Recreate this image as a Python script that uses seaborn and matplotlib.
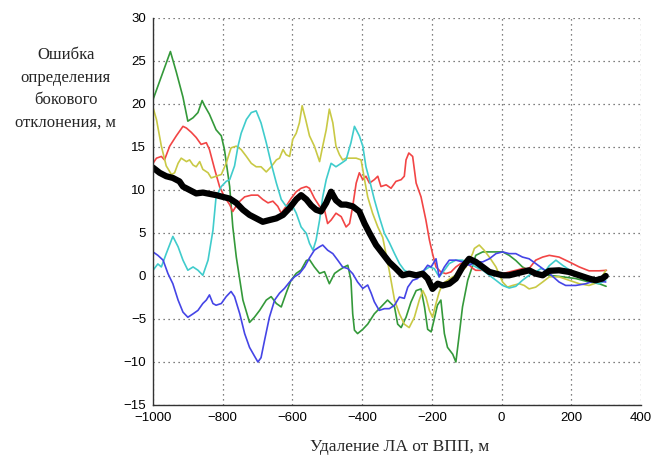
import pandas as pd
import seaborn as sns
import matplotlib.pyplot as plt

# Lateral deviation error vs distance to runway, 5 runs + average (thick black)

x_green = [-1000, -950, -933, -914, -900, -885, -871, -859, -852, -838, -819, -804, -795, -780, -771, -761, -742, -723, -709, -694,
           -675, -661, -646, -632, -618, -604, -589, -575, -560, -551, -537, -522, -508, -494, -479, -465, -451, -441, -432, -427,
           -422, -413, -398, -384, -365, -346, -327, -307, -298, -288, -274, -260, -245, -231, -221, -212, -202, -193, -184, -174,
           -164, -155, -140, -131, -121, -112, -97, -83, -74, -54, -35, -16, 3, 22, 41, 60, 79, 98, 118, 137,
           175, 213, 251, 280, 300]
y_green = [20.5, 26.1, 23.7, 20.8, 18.0, 18.4, 19.0, 20.4, 19.8, 18.8, 17.0, 16.3, 14.7, 10.4, 5.7, 2.2, -2.8, -5.4, -4.8, -4.0,
           -2.8, -2.4, -3.2, -3.6, -2.0, -0.5, 0.3, 0.7, 1.8, 1.9, 1.05, 0.3, 0.5, -0.9, 0.3, 0.7, 1.05, 1.25, -0.5, -4.4,
           -6.3, -6.7, -6.2, -5.6, -4.4, -3.6, -2.8, -3.6, -5.6, -6.0, -4.8, -3.05, -1.7, -1.5, -3.6, -6.2, -6.5, -5.0, -3.4, -2.8,
           -6.7, -8.3, -9.1, -10.0, -6.7, -3.6, -0.5, 1.2, 2.4, 2.8, 2.8, 2.8, 2.8, 2.4, 1.8, 1.05, 0.66, 0.47, 0.27, 0.08,
           -0.1, -0.3, -0.7, -0.9, -1.2]

x_red = [-1000, -990, -976, -967, -952, -933, -914, -904, -890, -876, -862, -847, -838, -823, -809, -795, -780, -771, -756, -737,
         -718, -699, -685, -670, -656, -642, -632, -618, -604, -589, -575, -560, -551, -537, -522, -508, -499, -489, -475, -460,
         -446, -436, -427, -417, -408, -398, -389, -379, -365, -355, -346, -331, -317, -303, -288, -279, -274, -266, -255, -245,
         -231, -217, -207, -198, -188, -174, -160, -145, -131, -117, -102, -83, -74, -54, -35, -16, 3, 22, 41, 60,
         79, 98, 118, 137, 165, 194, 223, 251, 280, 301]
y_red = [13.1, 13.7, 13.9, 13.5, 15.1, 16.3, 17.4, 17.2, 16.7, 16.1, 15.3, 15.5, 14.7, 12.4, 10.4, 9.2, 8.3, 7.5, 8.5, 9.2,
         9.4, 9.4, 8.9, 8.5, 8.7, 8.1, 7.3, 8.1, 9.0, 9.8, 10.2, 10.4, 10.2, 9.05, 8.1, 7.7, 6.1, 6.5, 7.3, 6.9,
         5.7, 6.1, 8.1, 10.8, 12.0, 11.2, 11.6, 10.8, 11.2, 11.6, 10.4, 10.6, 10.2, 11.0, 11.2, 11.6, 13.5, 14.3, 13.9, 10.8,
         9.2, 6.5, 4.2, 2.6, 1.05, 0.47, 0.27, 0.47, 1.05, 1.45, 1.64, 0.9, 0.66, 0.66, 0.47, 0.27, 0.27, 0.47, 0.66, 0.86,
         0.86, 1.84, 2.2, 2.4, 2.2, 1.64, 1.05, 0.6, 0.6, 0.66]

x_yellow = [-1000, -990, -976, -962, -947, -938, -928, -919, -904, -895, -885, -876, -866, -857, -842, -833, -819, -804, -790, -776,
            -761, -747, -732, -718, -704, -690, -675, -661, -646, -637, -627, -618, -608, -599, -589, -580, -572, -562, -551, -537,
            -522, -513, -503, -494, -484, -475, -465, -456, -446, -432, -417, -403, -393, -384, -370, -355, -341, -322, -307, -293,
            -279, -265, -250, -236, -226, -217, -207, -198, -188, -179, -169, -155, -140, -121, -102, -83, -78, -64, -50, -35,
            -16, 3, 17, 32, 51, 65, 79, 98, 118, 137, 165, 194, 223, 251, 280, 299]
y_yellow = [19.6, 18.2, 15.1, 12.8, 11.8, 12.0, 13.1, 13.7, 13.3, 13.5, 12.9, 12.7, 13.3, 12.4, 12.0, 11.4, 11.6, 11.8, 13.1, 14.9,
            15.1, 14.7, 13.9, 13.1, 12.7, 12.7, 12.1, 12.7, 13.5, 13.7, 14.7, 14.1, 13.9, 15.9, 16.6, 17.8, 19.8, 18.2, 16.3, 15.1,
            13.3, 15.1, 17.0, 19.4, 17.8, 15.1, 14.1, 13.5, 13.7, 13.7, 13.7, 13.5, 11.2, 9.2, 7.3, 5.7, 4.5, 0.6, -2.8, -4.4,
            -5.6, -6.0, -4.8, -2.8, -1.7, -2.45, -4.0, -4.8, -3.2, -1.9, -0.9, -0.5, -0.1, 0.27, 1.05, 2.6, 3.2, 3.6, 3.0, 2.2,
            1.05, -0.7, -1.3, -1.1, -0.9, -1.1, -1.5, -1.3, -0.7, -0.1, -0.1, -0.5, -0.9, -1.1, -0.7, 0.66]

x_cyan = [-1000, -986, -976, -962, -943, -928, -914, -900, -885, -871, -857, -842, -828, -819, -804, -790, -780, -766, -756, -747,
          -732, -718, -704, -690, -675, -661, -646, -632, -618, -604, -589, -575, -560, -551, -541, -532, -522, -513, -503, -489,
          -475, -460, -446, -432, -422, -408, -398, -389, -379, -365, -351, -336, -322, -307, -293, -279, -260, -241, -221, -207,
          -193, -179, -164, -150, -131, -112, -93, -74, -54, -35, -16, 3, 22, 41, 60, 79, 98, 113, 127, 137,
          156, 175, 203, 232, 261, 280, 299]
y_cyan = [0.67, 1.4, 1.05, 2.6, 4.6, 3.4, 1.84, 0.67, 1.05, 0.67, 0.08, 1.84, 5.3, 9.2, 10.4, 11.0, 11.2, 12.8, 15.1, 16.6,
          18.2, 19.0, 19.2, 17.8, 15.5, 13.1, 10.8, 8.9, 8.1, 8.5, 7.3, 5.7, 4.95, 3.8, 3.0, 4.2, 6.5, 9.2, 11.2, 13.1,
          12.7, 13.1, 13.5, 15.5, 17.4, 16.3, 15.1, 12.7, 11.2, 8.9, 6.9, 4.95, 3.9, 2.6, 1.45, 0.67, 0.27, 0.27, 0.67, 1.05,
          0.86, -0.1, 0.67, 1.45, 1.84, 1.84, 1.5, 1.05, 0.66, 0.08, -0.5, -1.1, -1.4, -1.2, -0.5, 0.08, 0.47, 0.86, 0.66, 1.2,
          1.84, 1.25, 0.47, -0.3, -0.7, -0.9, -0.5]

x_blue = [-1000, -986, -971, -957, -943, -928, -914, -900, -885, -871, -857, -847, -838, -828, -819, -804, -790, -776, -766, -751,
          -737, -723, -709, -699, -690, -680, -666, -651, -637, -623, -608, -594, -580, -565, -551, -537, -522, -513, -499, -484,
          -470, -456, -441, -427, -413, -398, -384, -374, -365, -351, -336, -322, -307, -293, -279, -269, -255, -241, -226, -212,
          -202, -188, -179, -164, -150, -131, -112, -93, -74, -54, -35, -16, 3, 22, 41, 60, 79, 98, 118, 137,
          165, 184, 213, 242, 270, 299]
y_blue = [2.8, 2.4, 1.84, 0.27, -0.9, -2.8, -4.2, -4.8, -4.4, -4.0, -3.2, -2.8, -2.2, -3.2, -3.4, -3.2, -2.4, -1.8, -2.4, -4.4,
          -6.7, -8.3, -9.3, -10.0, -9.5, -7.5, -4.8, -2.8, -2.0, -1.45, -0.7, -0.1, 0.27, 1.05, 2.1, 3.0, 3.4, 3.6, 3.0, 2.6,
          1.84, 1.05, 0.86, 0.27, -0.7, -1.45, -1.05, -2.0, -3.0, -4.0, -3.8, -3.8, -3.4, -2.45, -2.6, -1.3, -0.5, -0.3, 0.47, 1.25,
          1.05, 2.0, -0.1, 1.05, 1.84, 1.84, 1.64, 1.25, 1.64, 1.64, 2.0, 2.6, 2.8, 2.6, 2.6, 2.2, 2.0, 1.45, 0.86, 0.3,
          -0.7, -1.1, -1.1, -0.9, -0.5, -0.7]

x_mean = [-1000, -981, -962, -943, -924, -914, -895, -876, -857, -838, -819, -800, -780, -761, -742, -723, -704, -685, -666, -646,
          -627, -608, -589, -575, -560, -546, -532, -518, -503, -489, -475, -460, -446, -427, -408, -393, -379, -360, -341, -322,
          -303, -284, -265, -245, -226, -212, -198, -183, -169, -150, -131, -112, -93, -74, -54, -35, -16, 3, 22, 41,
          60, 79, 98, 118, 137, 165, 194, 223, 251, 270, 289, 299]
y_mean = [12.6, 12.0, 11.6, 11.4, 11.0, 10.4, 10.0, 9.6, 9.7, 9.55, 9.4, 9.2, 9.0, 8.5, 7.7, 7.1, 6.7, 6.3, 6.5, 6.7,
          7.1, 7.9, 8.9, 9.4, 8.9, 8.2, 7.7, 7.5, 8.5, 9.8, 8.8, 8.3, 8.3, 8.1, 7.5, 6.1, 5.0, 3.6, 2.6, 1.6,
          0.87, 0.08, 0.27, 0.08, 0.27, -0.3, -1.5, -0.9, -1.1, -0.9, -0.3, 1.05, 2.0, 1.64, 1.05, 0.47, 0.27, 0.08, 0.08, 0.27,
          0.47, 0.66, 0.27, 0.08, 0.6, 0.66, 0.47, 0.08, -0.3, -0.5, -0.3, 0.0]

series = [
    (x_green, y_green, '#34993a', 1.2),
    (x_red, y_red, '#f24545', 1.2),
    (x_yellow, y_yellow, '#c9c945', 1.2),
    (x_cyan, y_cyan, '#40cccc', 1.2),
    (x_blue, y_blue, '#4545e6', 1.2),
    (x_mean, y_mean, 'black', 4.5),
]

sns.set_style('white')
plt.rcParams['font.family'] = ['Liberation Sans', 'DejaVu Sans']

fig = plt.figure(figsize=(6.58, 4.61), dpi=100)
ax = fig.add_axes([0.2325, 0.1215, 0.7416, 0.8395])

for xs, ys, col, lw in series:
    df = pd.DataFrame({'x': xs, 'y': ys})
    sns.lineplot(data=df, x='x', y='y', color=col, linewidth=lw, sort=False, ax=ax)

ax.set_xlim(-1000, 400)
ax.set_ylim(-15, 30)
ax.set_xticks(range(-1000, 401, 200))
ax.set_yticks(range(-15, 31, 5))
ax.grid(True, linestyle=(0, (1, 3)), color='#555555', linewidth=0.9)
ax.tick_params(direction='in', length=4, labelsize=9.5, colors='black', pad=5)
for s in ['top', 'right']:
    ax.spines[s].set_visible(False)
for s in ['left', 'bottom']:
    ax.spines[s].set_color('#333333')
    ax.spines[s].set_linewidth(1.0)
ax.set_xlabel('')
ax.set_ylabel('')

# labels in serif, placed like the original figure
fig.text(0.1, 0.807, 'Ошибка\nопределения\nбокового\nотклонения, м', ha='center', va='center',
         family=['Liberation Serif'], fontsize=12, linespacing=1.55)
fig.text(0.608, 0.03, 'Удаление ЛА от ВПП, м', ha='center', va='center',
         family=['Liberation Serif'], fontsize=12.5)

plt.savefig('out.png', dpi=100)
